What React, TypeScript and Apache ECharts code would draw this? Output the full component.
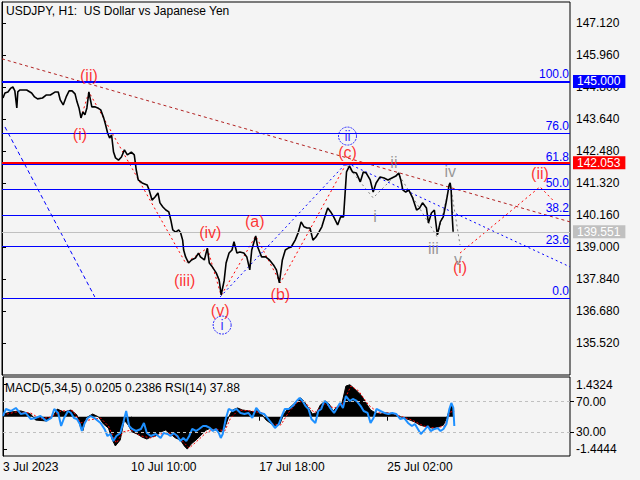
import React, { useEffect, useRef } from "react";
import * as echarts from "echarts";

const FONT = "'Liberation Sans', Arial, Helvetica, sans-serif";

// x values are H1 bar counts from 3 Jul 2023 00:00
const X_MAX = 575.4;
const dateTickHours = [0, 130, 260, 390];
const dateTickLabels = ["3 Jul 2023", "10 Jul 10:00", "17 Jul 18:00", "25 Jul 02:00"];
const priceTicks = [135.52, 136.68, 137.84, 139.0, 140.16, 141.32, 142.48, 143.64, 144.8, 145.96, 147.12];
const macdTicks = [1.4324, -1.4444];
const rsiTicks = [70, 30];

const priceHours = [1,3,6,9,11,13,15,16,18,21,25,30,33,36,41,45,49,54,57,59,62,65,68,71,74,76,78,80,82,84,86,88,91,94,97,100,103,105,107,109,111,113,115,118,121,124,127,131,134,136,138,142,147,149,152,155,158,160,163,166,169,171,173,176,179,181,183,184,186,189,192,196,199,201,205,208,210,213,217,220,222,225,227,230,233,235,238,241,245,248,251,253,257,259,263,267,271,275,278,281,284,287,290,293,297,300,303,306,309,312,315,318,321,324,327,330,333,336,340,343,346,349,352,355,359,363,366,369,373,376,379,383,387,391,395,399,402,404,406,409,412,416,420,423,426,430,432,435,438,441,444,447,450,453,454,455,456,457];
const priceClose = [
  144.40,144.58,144.62,144.76,144.80,144.66,144.04,144.62,144.69,144.69,
  144.69,144.58,144.44,144.37,144.40,144.51,144.51,144.62,144.62,144.33,
  144.15,144.44,144.66,144.66,144.55,144.26,144.04,143.68,143.89,143.79,
  144.04,144.62,144.08,144.08,144.04,143.97,143.68,143.42,143.13,142.95,
  143.06,142.44,142.23,142.15,142.26,142.52,142.34,142.44,142.34,141.79,
  141.43,141.32,141.25,141.07,140.70,140.81,140.96,140.60,140.45,140.34,
  140.27,139.98,139.62,139.54,139.62,139.51,139.25,138.89,138.64,138.42,
  138.53,138.60,138.78,138.64,138.53,138.96,138.42,138.28,138.06,137.80,
  137.26,137.77,138.42,138.78,138.89,139.19,138.78,138.82,138.78,138.64,
  138.17,138.89,139.40,139.00,138.64,138.64,138.53,138.35,138.17,137.70,
  138.53,138.89,138.96,139.00,139.25,139.51,139.91,139.73,139.69,139.69,
  139.25,139.36,139.54,139.73,140.09,140.41,140.27,140.09,139.80,140.09,
  140.09,141.72,141.94,141.72,141.68,141.36,141.72,141.68,141.43,140.99,
  141.32,141.54,141.50,141.43,141.50,141.57,141.68,141.43,141.07,140.99,
  141.07,140.78,140.34,140.41,140.60,140.41,139.87,140.23,140.34,139.44,
  139.91,140.09,140.63,141.25,141.32,141.07,140.16,139.55
];

const histHours = [0,8,18,28,33,44,51,55,62,69,75,79,81,84,91,97,102,107,111,114,119,123,127,131,136,141,146,150,155,160,165,170,175,180,184,187,191,197,201,206,211,216,221,225,229,233,238,243,249,255,259,263,267,271,277,281,285,289,294,298,302,306,310,314,318,322,327,331,335,340,344,348,352,356,360,364,369,373,378,383,389,395,401,407,413,418,423,430,436,442,447,451,454,456,457];
const histValues = [0.12,0.21,0.26,0.12,-0.15,-0.19,0.03,0.34,0.21,0.30,0.08,-0.51,-0.64,-0.06,0.12,-0.01,-0.33,-0.51,-1.04,-1.31,-1.04,-0.15,-0.37,-0.68,-0.77,-0.91,-1.00,-0.91,-0.86,-0.68,-0.60,-0.77,-0.95,-1.04,-1.31,-1.45,-1.22,-1.00,-0.82,-0.60,-0.51,-0.60,-0.68,-0.51,-0.01,0.30,0.39,0.30,0.26,0.21,0.30,0.08,-0.15,-0.28,-0.42,-0.33,0.12,0.34,0.52,0.70,0.84,0.66,0.39,0.12,0.17,0.52,0.70,0.57,0.26,0.48,0.61,1.37,1.43,1.28,1.10,0.93,0.57,0.30,0.17,0.12,0.17,0.12,0.03,-0.06,-0.15,-0.24,-0.37,-0.46,-0.51,-0.46,-0.37,0.03,0.43,0.52,0.02];

const sigHours = [0,13,28,38,49,59,71,79,87,99,107,115,122,130,140,150,160,170,180,189,197,207,216,225,231,239,251,263,274,282,290,300,308,316,326,336,344,353,361,371,381,393,403,415,427,438,448,454,458];
const sigValues = [0.08,0.21,0.17,-0.10,-0.01,0.26,0.26,-0.28,-0.15,-0.06,-0.42,-1.18,-0.68,-0.60,-0.86,-0.95,-0.77,-0.73,-1.00,-1.40,-1.09,-0.68,-0.55,-0.64,-0.06,0.30,0.26,0.17,-0.33,-0.37,0.21,0.70,0.57,0.17,0.57,0.39,0.52,1.37,1.15,0.52,0.17,0.17,0.03,-0.15,-0.42,-0.51,-0.42,0.21,0.24];

const rsiHours = [0,3,8,13,18,23,28,33,38,44,49,52,56,59,62,66,69,72,75,78,80,83,86,89,94,99,103,106,109,112,115,119,122,125,128,131,135,140,143,146,150,155,160,163,167,170,173,177,180,183,186,189,192,196,199,203,206,210,213,216,219,221,223,226,229,233,237,241,245,249,253,257,261,265,269,273,276,280,283,286,290,294,298,301,304,307,310,313,317,320,323,326,329,332,336,339,342,345,348,352,355,359,363,366,370,373,376,379,383,387,391,395,399,403,407,411,415,418,421,424,427,431,434,438,441,444,447,450,453,455,457,458];
const rsiValues = [51.1,60.4,57.7,61.7,53.8,55.1,47.2,48.5,51.1,44.5,48.5,60.4,55.1,37.9,48.5,57.7,55.1,48.5,47.2,40.6,31.3,41.9,48.5,51.1,47.2,41.9,34.0,24.7,27.4,18.1,24.7,28.7,41.9,57.7,37.9,34.0,31.3,34.0,41.9,28.7,24.7,27.4,22.1,28.7,27.4,24.7,28.7,24.7,18.1,22.1,18.1,24.7,34.0,31.3,34.0,37.9,37.9,35.3,31.3,34.0,28.7,22.1,27.4,47.2,60.4,57.7,60.4,55.1,53.8,55.1,48.5,61.7,55.1,53.8,47.2,40.6,35.3,40.6,51.1,60.4,60.4,64.3,70.9,74.9,70.9,64.3,60.4,47.2,41.9,57.7,60.4,70.9,68.3,61.7,55.1,61.7,68.3,61.7,77.5,70.9,73.6,70.9,64.3,57.7,55.1,41.9,48.5,60.4,57.7,55.1,53.8,55.1,53.8,47.2,48.5,41.9,37.9,40.6,34.0,27.4,31.3,37.9,31.3,34.0,35.3,31.3,34.0,40.6,60.4,68.3,61.7,37.88];

// levels
const fibLow = 137.16;
const fibHigh = 145.0;
const fibLevels = [0, 23.6, 38.2, 50, 61.8, 76, 100];
const resistance = 145.0;
const support = 142.053;
const bid = 139.551;

// drawn lines
const trendHours = [0, 575.4];
const trendPrices = [145.82, 139.91];
const steepHours = [3, 94];
const steepPrices = [143.35, 137.19];
const channelHours = [221, 349, 575.4];
const channelPrices = [137.19, 142.05, 138.28];
const waveHours = [80, 88, 186, 208, 222, 257, 282, 348];
const wavePrices = [143.68, 144.62, 138.42, 138.96, 137.24, 139.40, 137.70, 141.97];
const subWaveHours = [349, 376, 401, 441, 454, 464];
const subWavePrices = [141.97, 140.78, 141.68, 139.36, 141.32, 139.07];
const projHours = [464, 545, 558];
const projPrices = [138.78, 141.18, 140.70];

// wave labels
const redLabelText = ["(ii)", "(i)", "(iii)", "(iv)", "(v)", "(a)", "(b)", "(c)", "(i)", "(ii)"];
const redLabelHours = [88, 79, 185, 211, 221, 256, 282, 350, 464, 545];
const redLabelPrices = [145.20, 143.06, 137.80, 139.51, 136.68, 139.91, 137.26, 142.41, 138.24, 141.68];
const greyLabelText = ["i", "ii", "iii", "iv", "v"];
const greyLabelHours = [378, 397, 437, 454, 462];
const greyLabelPrices = [140.09, 142.08, 138.93, 141.72, 138.53];
const circledText = ["i", "ii"];
const circledHours = [223, 350];
const circledPrices = [136.17, 143.02];

const pairs = (xs: number[], ys: number[]) => xs.map((x, i) => [x, ys[i]]);

function buildOption() {
  const txt = { fontFamily: FONT, color: "#000", fontSize: 12 };
  const tag = (value: number, text: string, bg: string, color: string, width: number) => ({
    yAxis: value,
    lineStyle: { color, width, type: "solid" },
    label: {
      show: true,
      position: "end",
      formatter: text,
      color: "#ffffff",
      backgroundColor: bg,
      padding: [1, 5, 0, 4],
      distance: 3,
      fontSize: 12,
      fontFamily: FONT,
    },
  });
  const fibData = fibLevels.map((l) => ({
    yAxis: fibLow + ((fibHigh - fibLow) * l) / 100,
    lineStyle: { color: "#0000ff", width: 1, type: "solid" },
    label: {
      show: true,
      position: "insideEndTop",
      formatter: l.toFixed(1),
      color: "#0000ff",
      fontSize: 12,
      fontFamily: FONT,
      distance: 1,
    },
  }));
  const lineSeries = (name: string, xs: number[], ys: number[], color: string, type: any, width = 1) => ({
    name,
    type: "line",
    xAxisIndex: 0,
    yAxisIndex: 0,
    data: pairs(xs, ys),
    symbol: "none",
    silent: true,
    lineStyle: { color, width, type },
    emphasis: { disabled: true },
    z: 3,
  });
  const labelSeries = (name: string, texts: string[], xs: number[], ys: number[], color: string, size: number) => ({
    name,
    type: "scatter",
    xAxisIndex: 0,
    yAxisIndex: 0,
    symbolSize: 1,
    itemStyle: { color: "rgba(0,0,0,0)" },
    silent: true,
    emphasis: { disabled: true },
    data: texts.map((t, i) => ({ name: t, value: [xs[i], ys[i]] })),
    label: { show: true, position: "inside", formatter: "{b}", color, fontSize: size, fontFamily: FONT },
    z: 5,
  });

  return {
    animation: false,
    backgroundColor: "#f4f4f4",
    textStyle: { fontFamily: FONT },
    title: [
      { text: "USDJPY, H1:  US Dollar vs Japanese Yen", left: 6, top: 5, padding: 0, textStyle: { ...txt, fontWeight: "normal" } },
      { text: "MACD(5,34,5) 0.0205 0.2386 RSI(14) 37.88", left: 5, top: 382, padding: 0, textStyle: { ...txt, fontWeight: "normal" } },
    ],
    grid: [
      { left: 2, top: 2, width: 568, height: 373, show: true, borderColor: "#000", borderWidth: 1, backgroundColor: "transparent" },
      { left: 2, top: 377, width: 568, height: 79, show: true, borderColor: "#000", borderWidth: 1, backgroundColor: "transparent" },
    ],
    xAxis: [
      { type: "value", gridIndex: 0, min: 0, max: X_MAX, show: false },
      {
        type: "value",
        gridIndex: 1,
        min: 0,
        max: X_MAX,
        axisLine: { show: false },
        splitLine: { show: false },
        axisTick: { show: true, customValues: dateTickHours, length: 4, lineStyle: { color: "#000" } },
        axisLabel: {
          show: true,
          customValues: dateTickHours,
          formatter: (v: number) => {
            const i = dateTickHours.indexOf(Math.round(v));
            return i >= 0 ? dateTickLabels[i] : "";
          },
          align: "left",
          margin: 5,
          ...txt,
        },
      },
    ],
    yAxis: [
      {
        type: "value",
        gridIndex: 0,
        position: "right",
        min: 134.36,
        max: 147.88,
        splitLine: { show: false },
        axisLine: { show: true, lineStyle: { color: "#000" } },
        axisTick: { show: true, customValues: priceTicks, length: 4, lineStyle: { color: "#000" } },
        axisLabel: { customValues: priceTicks, formatter: (v: number) => v.toFixed(3), margin: 6, ...txt },
      },
      {
        type: "value",
        gridIndex: 1,
        position: "right",
        offset: 0,
        min: -1.758,
        max: 1.776,
        splitLine: { show: false },
        axisLine: { show: true, lineStyle: { color: "#000" } },
        axisTick: { show: true, customValues: macdTicks, length: 4, lineStyle: { color: "#000" } },
        axisLabel: { customValues: macdTicks, formatter: (v: number) => v.toFixed(4), margin: 6, ...txt },
      },
      {
        type: "value",
        gridIndex: 1,
        position: "right",
        offset: 0,
        min: -1.7,
        max: 102.6,
        splitLine: { show: false },
        axisLine: { show: false },
        axisTick: { show: true, customValues: rsiTicks, length: 4, lineStyle: { color: "#000" } },
        axisLabel: { customValues: rsiTicks, formatter: (v: number) => v.toFixed(2), margin: 6, ...txt },
      },
    ],
    series: [
      {
        name: "levels",
        type: "line",
        xAxisIndex: 0,
        yAxisIndex: 0,
        data: [],
        silent: true,
        markLine: {
          silent: true,
          symbol: ["none", "none"],
          emphasis: { disabled: true },
          data: [
            ...fibData,
            tag(bid, bid.toFixed(3), "#c0c0c0", "#c0c0c0", 1),
            tag(support, support.toFixed(3), "#ff0000", "#ff0000", 2),
            tag(resistance, resistance.toFixed(3), "#0000ff", "#0000ff", 2),
          ],
        },
        z: 2,
      },
      lineSeries("trend", trendHours, trendPrices, "#b22222", [3, 3]),
      lineSeries("steep", steepHours, steepPrices, "#0000ff", [4, 3]),
      lineSeries("channel", channelHours, channelPrices, "#0000ff", [2, 3]),
      lineSeries("waves", waveHours, wavePrices, "#ff0000", [2, 3]),
      lineSeries("subwaves", subWaveHours, subWavePrices, "#808080", [2, 3]),
      lineSeries("projection", projHours, projPrices, "#ff0000", [2, 3]),
      {
        name: "USDJPY",
        type: "line",
        xAxisIndex: 0,
        yAxisIndex: 0,
        data: pairs(priceHours, priceClose),
        symbol: "none",
        silent: true,
        lineStyle: { color: "#000", width: 1.6 },
        emphasis: { disabled: true },
        z: 4,
      },
      labelSeries("redLabels", redLabelText, redLabelHours, redLabelPrices, "#ff0000", 16),
      labelSeries("greyLabels", greyLabelText, greyLabelHours, greyLabelPrices, "#808080", 16),
      {
        name: "circled",
        type: "scatter",
        xAxisIndex: 0,
        yAxisIndex: 0,
        symbol: "circle",
        symbolSize: 18,
        silent: true,
        emphasis: { disabled: true },
        itemStyle: { color: "rgba(0,0,0,0)", borderColor: "#0000ff", borderWidth: 1, borderType: [2, 1] },
        data: circledText.map((t, i) => ({ name: t, value: [circledHours[i], circledPrices[i]] })),
        label: { show: true, position: "inside", formatter: "{b}", color: "#0000ff", fontSize: 14, fontFamily: FONT },
        z: 5,
      },
      {
        name: "MACD",
        type: "line",
        xAxisIndex: 1,
        yAxisIndex: 1,
        data: pairs(histHours, histValues),
        symbol: "none",
        silent: true,
        lineStyle: { color: "#000", width: 1 },
        areaStyle: { color: "#000", opacity: 1, origin: 0 },
        emphasis: { disabled: true },
      },
      {
        name: "Signal",
        type: "line",
        xAxisIndex: 1,
        yAxisIndex: 1,
        data: pairs(sigHours, sigValues),
        symbol: "none",
        silent: true,
        lineStyle: { color: "#ff0000", width: 1, type: [2, 2] },
        emphasis: { disabled: true },
      },
      {
        name: "RSI",
        type: "line",
        xAxisIndex: 1,
        yAxisIndex: 2,
        data: pairs(rsiHours, rsiValues),
        symbol: "none",
        silent: true,
        lineStyle: { color: "#1e90ff", width: 2 },
        emphasis: { disabled: true },
        markLine: {
          silent: true,
          symbol: ["none", "none"],
          label: { show: false },
          lineStyle: { color: "#c0c0c0", type: [3, 3], width: 1 },
          emphasis: { disabled: true },
          data: rsiTicks.map((v) => ({ yAxis: v })),
        },
      },
    ],
  };
}

export default function App() {
  const ref = useRef<HTMLDivElement>(null);
  useEffect(() => {
    if (!ref.current) return;
    const chart = echarts.init(ref.current, null, { renderer: "svg" });
    chart.setOption(buildOption() as any);
    return () => chart.dispose();
  }, []);
  return (
    <div
      ref={ref}
      style={{ position: "fixed", left: 0, top: 0, width: 640, height: 480, background: "#f4f4f4" }}
    />
  );
}
